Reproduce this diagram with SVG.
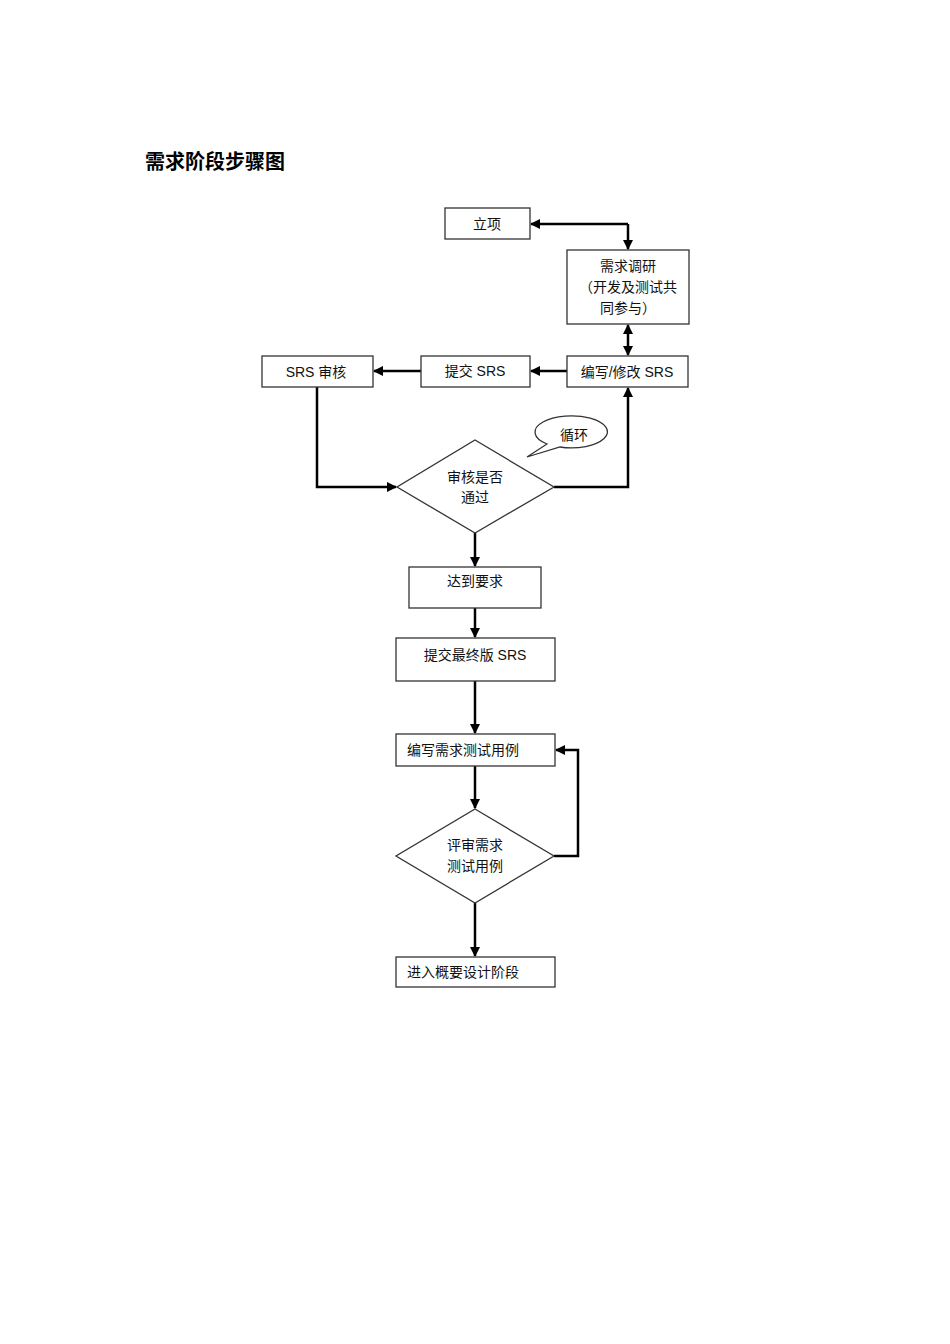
<svg xmlns="http://www.w3.org/2000/svg" width="950" height="1344" viewBox="0 0 950 1344">
<style>
.n{fill:#fff;stroke:#333;stroke-width:1.3}
.t{font-family:"Liberation Sans","Noto Sans CJK SC",sans-serif;font-size:14px;fill:#111;text-anchor:middle}
.c{fill:none;stroke:#000;stroke-width:2.5}
</style>
<defs><marker id="a" viewBox="0 0 10 10" refX="9" refY="5" markerWidth="4" markerHeight="4" orient="auto-start-reverse"><path d="M0,0L10,5L0,10z" fill="#000"/></marker></defs>
<rect width="950" height="1344" fill="#fff"/>
<text x="145" y="169" font-family="'Noto Sans CJK SC',sans-serif" font-size="20" font-weight="bold">需求阶段步骤图</text>
<g id="connectors">
<path class="c" d="M628,224H531" marker-end="url(#a)"/>
<path class="c" d="M628,224V249" marker-end="url(#a)"/>
<path class="c" d="M628,325V355" marker-start="url(#a)" marker-end="url(#a)"/>
<path class="c" d="M567,371H531" marker-end="url(#a)"/>
<path class="c" d="M421,371H374" marker-end="url(#a)"/>
<path class="c" d="M317,387V487H396" marker-end="url(#a)"/>
<path class="c" d="M554,487H628V388" marker-end="url(#a)"/>
<path class="c" d="M475,533V566" marker-end="url(#a)"/>
<path class="c" d="M475,608V637" marker-end="url(#a)"/>
<path class="c" d="M475,681V733" marker-end="url(#a)"/>
<path class="c" d="M475,766V808" marker-end="url(#a)"/>
<path class="c" d="M554,856H578V750H556" marker-end="url(#a)"/>
<path class="c" d="M475,903V956" marker-end="url(#a)"/>
</g>
<g id="n1"><rect class="n" x="445" y="208" width="85" height="31"/><text class="t" x="487" y="229">立项</text></g>
<g id="n2"><rect class="n" x="567" y="250" width="122" height="74"/><text class="t" x="628" y="271">需求调研</text><text class="t" x="628" y="292">（开发及测试共</text><text class="t" x="628" y="313">同参与）</text></g>
<g id="n3"><rect class="n" x="567" y="356" width="121" height="31"/><text class="t" x="627" y="377">编写/修改 SRS</text></g>
<g id="n4"><rect class="n" x="421" y="356" width="109" height="31"/><text class="t" x="475" y="376">提交 SRS</text></g>
<g id="n5"><rect class="n" x="262" y="356" width="111" height="31"/><text class="t" x="316" y="377">SRS 审核</text></g>
<g id="n6"><path class="n" d="M475,440L554,487L475,533L397,487z"/><text class="t" x="475" y="482">审核是否</text><text class="t" x="475" y="502">通过</text></g>
<g id="n7"><path class="n" d="M543,422A36,16 0 1 1 560,447L527,457L547,444A36,16 0 0 1 543,422z" fill="#fff"/><text class="t" x="574" y="440">循环</text></g>
<g id="n8"><rect class="n" x="409" y="567" width="132" height="41"/><text class="t" x="475" y="586">达到要求</text></g>
<g id="n9"><rect class="n" x="396" y="638" width="159" height="43"/><text class="t" x="475" y="660">提交最终版 SRS</text></g>
<g id="n10"><rect class="n" x="396" y="734" width="159" height="32"/><text class="t" x="463" y="755">编写需求测试用例</text></g>
<g id="n11"><path class="n" d="M475,809L554,856L475,903L396,856z"/><text class="t" x="475" y="850">评审需求</text><text class="t" x="475" y="871">测试用例</text></g>
<g id="n12"><rect class="n" x="396" y="957" width="159" height="30"/><text class="t" x="463" y="977">进入概要设计阶段</text></g>
</svg>
